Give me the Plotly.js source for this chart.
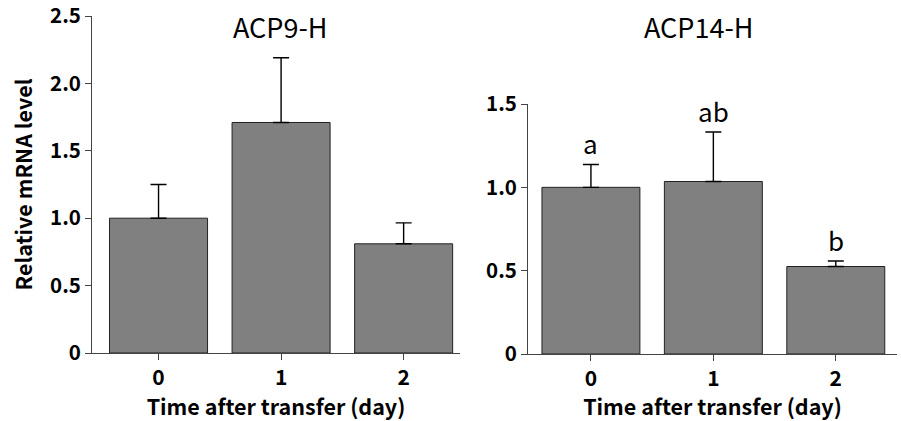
<!DOCTYPE html>
<html>
<head>
<meta charset="utf-8">
<script src="https://cdn.plot.ly/plotly-3.0.1.min.js"></script>
<style>html,body{margin:0;padding:0;background:#fff}#chart{width:901px;height:421px}</style>
</head>
<body>
<div id="chart"></div>
<script>
const categories = [0, 1, 2];
const tickLabels = ['0', '1', '2'];
const acp9Mean = [1.0, 1.71, 0.81];
const acp9Err = [0.25, 0.48, 0.155];
const acp14Mean = [1.0, 1.035, 0.525];
const acp14Err = [0.137, 0.297, 0.033];
const acp14Letters = ['a', 'ab', 'b'];
const yTicksLeft = [0, 0.5, 1.0, 1.5, 2.0, 2.5];
const yTickTextLeft = ['0', '0.5', '1.0', '1.5', '2.0', '2.5'];
const yTicksRight = [0, 0.5, 1.0, 1.5];
const yTickTextRight = ['0', '0.5', '1.0', '1.5'];

const FONT = '"Noto Sans CJK JP", "DejaVu Sans", sans-serif';
const zeros = categories.map(() => 0);

function barTrace(y, err, xa, ya) {
  return {
    type: 'bar', x: categories, y: y, xaxis: xa, yaxis: ya, width: 0.8,
    marker: {color: '#808080', line: {color: '#222222', width: 1}},
    error_y: {type: 'data', symmetric: false, array: err, arrayminus: zeros,
              color: '#000000', thickness: 1.4, width: 8},
    hoverinfo: 'skip', showlegend: false
  };
}

const data = [
  barTrace(acp9Mean, acp9Err, 'x', 'y'),
  barTrace(acp14Mean, acp14Err, 'x2', 'y2')
];

const xTickFont = {family: FONT, size: 21, color: '#000', weight: 'bold'};
const yTickFont = {family: FONT, size: 20.5, color: '#000', weight: 'bold'};
const xTitleFont = {family: FONT, size: 21.5, color: '#000', weight: 'bold'};
const yTitleFont = {family: FONT, size: 21.5, color: '#000', weight: 'bold'};

function xAxis(domain, range, anchor, standoff) {
  return {
    domain: domain, range: range, anchor: anchor,
    tickmode: 'array', tickvals: categories, ticktext: tickLabels,
    ticks: 'outside', ticklen: 6, tickwidth: 1, tickcolor: '#444',
    showline: true, linecolor: '#444', linewidth: 1,
    showgrid: false, zeroline: false, tickfont: xTickFont, ticklabeloverflow: 'allow',
    title: {text: 'Time after transfer (day)', font: xTitleFont, standoff: standoff},
    fixedrange: true
  };
}
function yAxis(domain, range, vals, txt, anchor, title) {
  const a = {
    domain: domain, range: range, anchor: anchor,
    tickmode: 'array', tickvals: vals, ticktext: txt,
    ticks: 'outside', ticklen: 6, tickwidth: 1, tickcolor: '#444',
    showline: true, linecolor: '#444', linewidth: 1, ticklabeloverflow: 'allow',
    showgrid: false, zeroline: false, tickfont: yTickFont, fixedrange: true
  };
  if (title) a.title = {text: title, font: yTitleFont, standoff: 11};
  return a;
}

const annotations = [
  {text: 'ACP9-H', xref: 'paper', yref: 'paper', x: 280/901, y: 1 - 27/421,
   xanchor: 'center', yanchor: 'middle', showarrow: false,
   font: {family: FONT, size: 27, color: '#000'}},
  {text: 'ACP14-H', xref: 'paper', yref: 'paper', x: 698/901, y: 1 - 27/421,
   xanchor: 'center', yanchor: 'middle', showarrow: false,
   font: {family: FONT, size: 27, color: '#000'}}
];
acp14Letters.forEach((t, i) => {
  annotations.push({text: t, xref: 'x2', yref: 'y2', x: categories[i],
    y: acp14Mean[i] + acp14Err[i], xanchor: 'center', yanchor: 'bottom',
    yshift: 1, showarrow: false, font: {family: FONT, size: 26, color: '#000'}});
});

const layout = {
  width: 901, height: 421,
  margin: {l: 0, r: 0, t: 0, b: 0},
  paper_bgcolor: '#fff', plot_bgcolor: '#fff',
  bargap: 0.19,
  xaxis: xAxis([92/901, 460/901], [-0.543, 2.46], 'y', 4),
  yaxis: yAxis([1 - 353/421, 1 - 16/421], [0, 2.5], yTicksLeft, yTickTextLeft, 'x', 'Relative mRNA level'),
  xaxis2: xAxis([528/901, 897/901], [-0.514, 2.5], 'y2', 5),
  yaxis2: yAxis([1 - 354/421, 1 - 104/421], [0, 1.5], yTicksRight, yTickTextRight, 'x2', null),
  annotations: annotations,
  showlegend: false
};

Plotly.newPlot('chart', data, layout, {displayModeBar: false, staticPlot: true});
</script>
</body>
</html>
